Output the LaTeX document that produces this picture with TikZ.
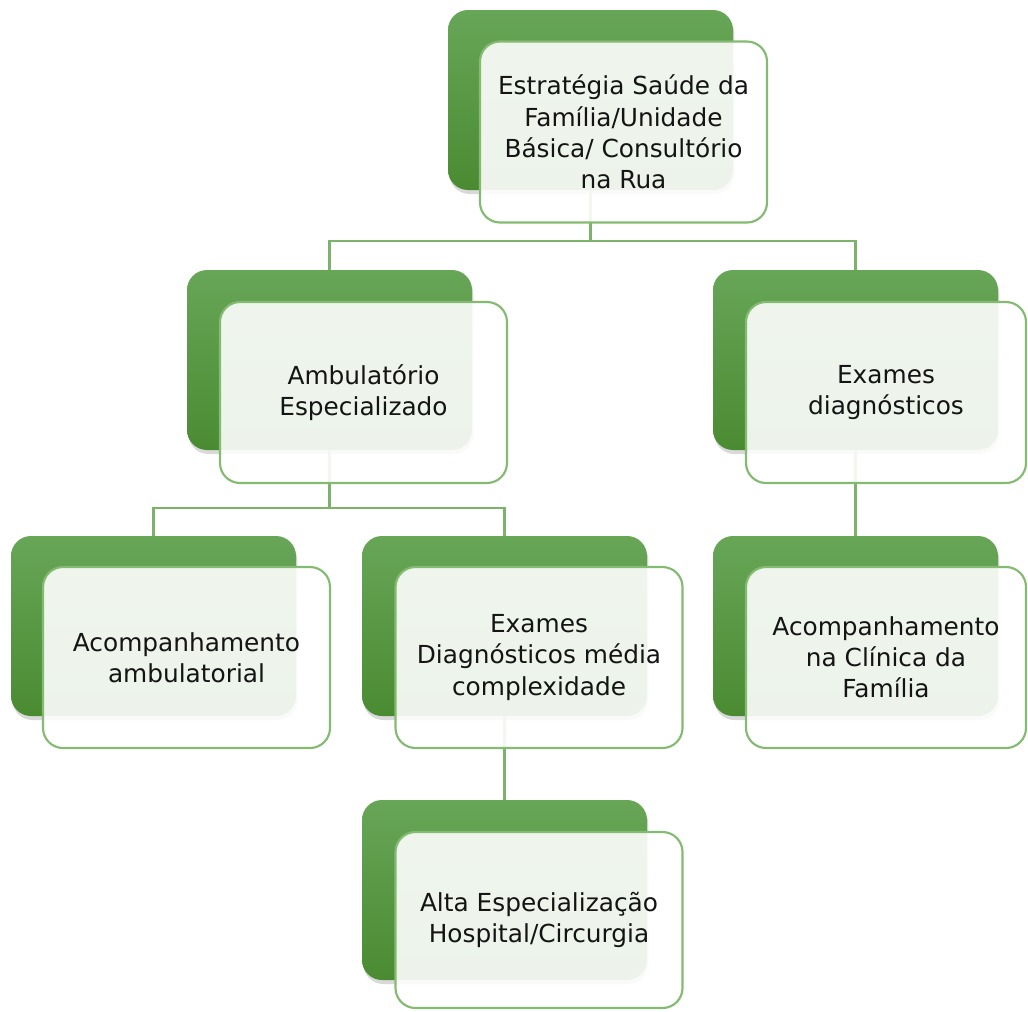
\documentclass[tikz,border=0pt]{standalone}
\usepackage{fontspec}
\setmainfont{DejaVu Sans}
\usetikzlibrary{shadows}
\definecolor{gtop}{HTML}{67A657}
\definecolor{gbot}{HTML}{4A8B32}
\definecolor{gline}{HTML}{7DB26A}
\definecolor{gborder}{HTML}{84BA72}
\definecolor{txt}{HTML}{141414}
\begin{document}
\begin{tikzpicture}[x=0.75pt,y=-0.75pt,
  backbox/.style={rounded corners=15pt, top color=gtop, bottom color=gbot, draw=none,
    minimum width=285*0.75pt, minimum height=180*0.75pt, inner sep=0pt,
    drop shadow={opacity=0.3, shadow xshift=1pt, shadow yshift=-3pt}},
  frontbox/.style={rounded corners=15pt, draw=gborder, line width=1.6pt, fill=white, fill opacity=0.9, text opacity=1,
    minimum width=287*0.75pt, minimum height=181*0.75pt, inner sep=0pt,
    align=center, text=txt, font=\fontsize{18.6}{23.4}\selectfont},
  link/.style={draw=gline, line width=1.6pt}]
\useasboundingbox (0,0) rectangle (1028,1011);
% back boxes
\node[backbox] (b0) at (590.5,100) {};
\node[backbox] (b1) at (329.5,360) {};
\node[backbox] (b2) at (855.5,360) {};
\node[backbox] (b3) at (153.5,626) {};
\node[backbox] (b4) at (504.5,626) {};
\node[backbox] (b5) at (855.5,626) {};
\node[backbox] (b6) at (504.5,890) {};
% connectors
\coordinate (j0) at (590.5,241);
\coordinate (j1) at (329.5,508);
\draw[link] (b0.south) -- (j0) -| (b1.north);
\draw[link] (j0) -| (b2.north);
\draw[link] (b1.south) -- (j1) -| (b3.north);
\draw[link] (j1) -| (b4.north);
\draw[link] (b2.south) -- (b5.north);
\draw[link] (b4.south) -- (b6.north);
% front boxes
\node[frontbox] (f0) at (623.5,132) {Estratégia Saúde da\\Família/Unidade\\Básica/ Consultório\\na Rua};
\node[frontbox] (f1) at (363.5,392.5) {Ambulatório\\Especializado};
\node[frontbox, minimum width=280*0.75pt] (f2) at (886,392.5) {Exames\\diagnósticos};
\node[frontbox] (f3) at (186.5,657.5) {Acompanhamento\\ambulatorial};
\node[frontbox] (f4) at (539,657.5) {Exames\\Diagnósticos média\\complexidade};
\node[frontbox, minimum width=280*0.75pt] (f5) at (886,657.5) {Acompanhamento\\na Clínica da\\Família};
\node[frontbox, minimum height=176*0.75pt] (f6) at (539,920) {Alta Especialização\\Hospital/Circurgia};
\end{tikzpicture}
\end{document}
